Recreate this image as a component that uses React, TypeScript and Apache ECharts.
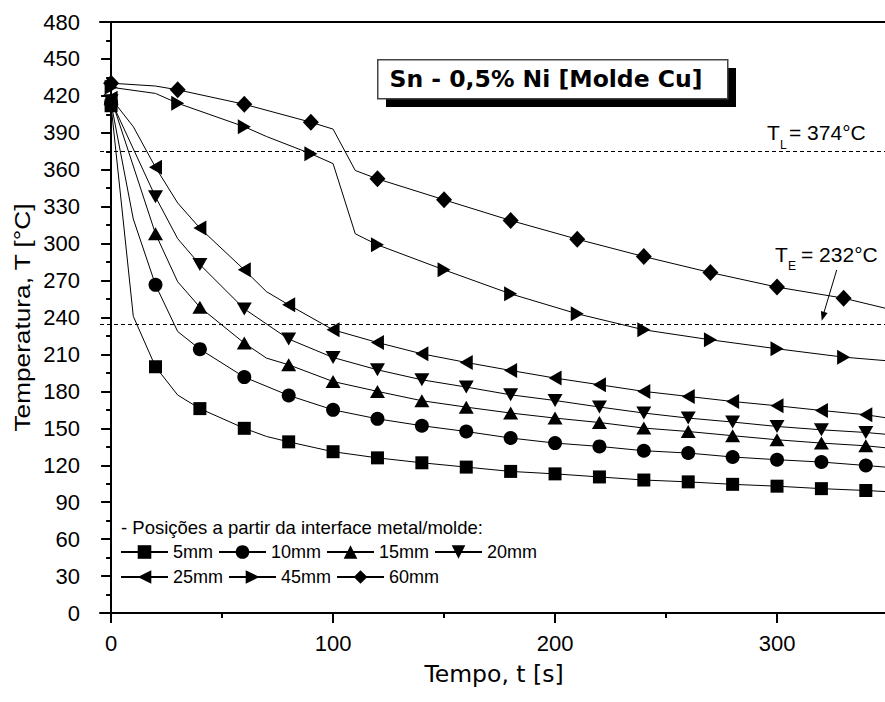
import React, { useEffect, useRef } from "react";
import * as echarts from "echarts";

// ---- data ----
const seriesNames = ["5mm", "10mm", "15mm", "20mm", "25mm", "45mm", "60mm"];

const s5mm = [[0, 412], [10, 241], [20, 200], [30, 177], [40, 166], [60, 150], [70, 143.4], [80, 139], [100, 131], [120, 126], [140, 122], [160, 118.5], [180, 115], [200, 113], [220, 110.5], [240, 108], [260, 106.5], [280, 104.5], [300, 103], [320, 101], [340, 99.5], [350, 98.5]];
const s10mm = [[0, 414], [10, 320], [20, 266.5], [30, 228.6], [40, 214.3], [60, 191.6], [80, 176.7], [100, 165], [120, 157.7], [140, 152.1], [160, 147.4], [180, 142.1], [200, 138], [220, 135.3], [240, 131.8], [260, 129.9], [280, 126.7], [300, 124.5], [320, 122.6], [340, 119.8], [350, 118.3]];
const s15mm = [[0, 418], [20, 308], [30, 269], [40, 248.4], [60, 219.2], [70, 207], [80, 201.6], [100, 188], [120, 180], [140, 172.4], [160, 167.2], [180, 162.4], [200, 158.3], [220, 154.7], [240, 150.2], [260, 147.4], [280, 144], [300, 140.7], [320, 138], [340, 135.8], [350, 134]];
const s20mm = [[0, 416], [20, 338], [30, 304], [40, 283], [60, 247], [80, 222.5], [100, 207.5], [120, 197.5], [140, 189.4], [160, 183.5], [180, 177.2], [200, 172.6], [220, 167.3], [240, 162.4], [260, 158.3], [280, 155.1], [300, 151.5], [320, 148.8], [340, 146.6], [350, 145]];
const s25mm = [[0, 418], [10, 395], [20, 362], [30, 333], [40, 312.6], [60, 278.7], [70, 261], [80, 250.3], [100, 230], [120, 219.7], [140, 210.5], [160, 203.5], [180, 197], [200, 190.8], [220, 185.4], [240, 180], [260, 175.9], [280, 171.8], [300, 168.3], [320, 164.5], [340, 161], [350, 158.3]];
const s45mm = [[0, 427], [20, 422], [30, 414], [60, 395], [70, 387], [90, 373], [100, 365], [110, 308], [120, 299], [150, 278.7], [180, 259.2], [210, 243], [240, 230], [270, 221.9], [300, 214.6], [330, 207.8], [350, 204.8]];
const s60mm = [[0, 430.3], [20, 428], [30, 424.9], [60, 413.2], [90, 398.6], [100, 393], [110, 359.4], [120, 352.6], [150, 335.6], [180, 318.8], [210, 303.6], [240, 289.5], [270, 276.5], [300, 264.7], [330, 255.7], [350, 247]];

const seriesData = [s5mm, s10mm, s15mm, s20mm, s25mm, s45mm, s60mm];
// seconds between plotted markers for each series
const markerEvery = [20, 20, 20, 20, 20, 30, 30];

const refLines = [375, 234.5]; // T_L and T_E dashed lines
const xTicks = [0, 100, 200, 300];
const xMinorTicks = [50, 150, 250];

const symbols = [
  "rect",
  "circle",
  "path://M5,0L10,9L0,9Z",
  "path://M0,0L10,0L5,9Z",
  "path://M0,5L9,0L9,10Z",
  "path://M0,0L9,5L0,10Z",
  "diamond",
];
const symbolSizes: any[] = [13, 14, [15, 13], [15, 13], [13, 15], [13, 15], [16, 17]];

const ARIAL = "Liberation Sans";
const TAHOMA = "DejaVu Sans";

export default function App() {
  const ref = useRef<HTMLDivElement>(null);
  useEffect(() => {
    const chart = echarts.init(ref.current!, null, { renderer: "svg" });

    const series: any[] = seriesData.map((pts, i) => ({
      name: seriesNames[i],
      type: "line",
      xAxisIndex: 0,
      yAxisIndex: 0,
      data: pts.map(([t, T]) =>
        t % markerEvery[i] === 0 ? { value: [t, T] } : { value: [t, T], symbol: "none" }
      ),
      symbol: symbols[i],
      symbolSize: symbolSizes[i],
      showSymbol: true,
      showAllSymbol: true,
      lineStyle: { color: "#000", width: 1 },
      itemStyle: { color: "#000" },
      emphasis: { disabled: true },
      markLine:
        i === 0
          ? {
              silent: true,
              symbol: ["none", "none"],
              label: { show: false },
              lineStyle: { color: "#000", width: 1, type: [4, 3] },
              data: refLines.map((v) => ({ yAxis: v })),
            }
          : undefined,
    }));

    const legendCommon = {
      left: 120,
      itemWidth: 47,
      itemHeight: 17,
      itemGap: 5,
      padding: 0,
      selectedMode: false,
      textStyle: { fontFamily: ARIAL, fontSize: 18, color: "#000" },
    };

    const option: any = {
      animation: false,
      backgroundColor: "#fff",
      grid: { left: 100, top: 22, width: 788, height: 591, containLabel: false, outerBoundsMode: "none" },
      xAxis: [
        {
          type: "value",
          min: -5,
          max: 350,
          position: "bottom",
          axisLine: { show: true, onZero: false, lineStyle: { color: "#000", width: 2 } },
          axisTick: { show: true, inside: false, length: 10, lineStyle: { color: "#000", width: 2 }, customValues: xTicks },
          axisLabel: { customValues: xTicks, margin: 19, color: "#000", fontFamily: ARIAL, fontSize: 22 },
          splitLine: { show: false },
          name: "Tempo, t [s]",
          nameLocation: "middle",
          nameGap: 49,
          nameTextStyle: { fontFamily: TAHOMA, fontSize: 23.5, color: "#000" },
        },
        {
          type: "value",
          min: -5,
          max: 350,
          position: "top",
          axisLine: { show: true, onZero: false, lineStyle: { color: "#000", width: 2 } },
          axisTick: { show: false },
          axisLabel: { show: false },
          splitLine: { show: false },
        },
        {
          type: "value",
          min: -5,
          max: 350,
          position: "bottom",
          axisLine: { show: false, onZero: false },
          axisTick: { show: true, inside: false, length: 5, lineStyle: { color: "#000", width: 2 }, customValues: xMinorTicks },
          axisLabel: { show: false },
          splitLine: { show: false },
        },
      ],
      yAxis: {
        type: "value",
        min: 0,
        max: 480,
        interval: 30,
        axisLine: { show: true, lineStyle: { color: "#000", width: 2 } },
        axisTick: { show: true, length: 10, lineStyle: { color: "#000", width: 2 } },
        minorTick: { show: true, splitNumber: 2, length: 5, lineStyle: { color: "#000", width: 2 } },
        axisLabel: { margin: 20, color: "#000", fontFamily: ARIAL, fontSize: 22 },
        splitLine: { show: false },
        minorSplitLine: { show: false },
      },
      legend: [
        { ...legendCommon, data: seriesNames.slice(0, 4), top: 543 },
        { ...legendCommon, data: seriesNames.slice(4), top: 568 },
      ],
      series,
      graphic: [
        // y-axis title (stretched along its direction as in the reference)
        {
          type: "text",
          x: 22,
          y: 317.5,
          rotation: Math.PI / 2,
          scaleX: 1.22,
          z: 12,
          style: {
            text: "Temperatura, T [°C]",
            font: `21.5px "${ARIAL}"`,
            fill: "#000",
            align: "center",
            verticalAlign: "middle",
          },
        },
        // title box shadow + box
        { type: "rect", left: 386, top: 68, shape: { width: 350, height: 39 }, style: { fill: "#000" }, z: 10 },
        { type: "rect", left: 377, top: 59, shape: { width: 350, height: 39 }, style: { fill: "#fff", stroke: "#444", lineWidth: 1.5 }, z: 11 },
        {
          type: "text",
          x: 546,
          y: 79,
          z: 12,
          style: {
            text: "Sn - 0,5% Ni [Molde Cu]",
            font: `bold 23.5px "${TAHOMA}"`,
            fill: "#000",
            align: "center",
            verticalAlign: "middle",
          },
        },
        // T_L label
        { type: "text", x: 767, y: 132.5, z: 12, style: { text: "T", font: `21px "${ARIAL}"`, fill: "#000", verticalAlign: "middle" } },
        { type: "text", x: 780, y: 145, z: 12, style: { text: "L", font: `12px "${ARIAL}"`, fill: "#000", verticalAlign: "middle" } },
        { type: "text", x: 789, y: 132.5, z: 12, style: { text: "= 374°C", font: `21px "${ARIAL}"`, fill: "#000", verticalAlign: "middle" } },
        // T_E label
        { type: "text", x: 775, y: 254.5, z: 12, style: { text: "T", font: `21px "${ARIAL}"`, fill: "#000", verticalAlign: "middle" } },
        { type: "text", x: 788, y: 266, z: 12, style: { text: "E", font: `12px "${ARIAL}"`, fill: "#000", verticalAlign: "middle" } },
        { type: "text", x: 801, y: 254.5, z: 12, style: { text: "= 232°C", font: `21px "${ARIAL}"`, fill: "#000", verticalAlign: "middle" } },
        // arrow
        { type: "line", z: 12, shape: { x1: 836.7, y1: 270, x2: 823.5, y2: 314 }, style: { stroke: "#000", lineWidth: 1 } },
        { type: "polygon", z: 12, shape: { points: [[821.7, 320.7], [827.6, 313.1], [820.9, 311.1]] }, style: { fill: "#000" } },
        // legend header
        {
          type: "text",
          x: 121,
          y: 527,
          z: 12,
          style: {
            text: "- Posições a partir da interface metal/molde:",
            font: `18.5px "${ARIAL}"`,
            fill: "#000",
            verticalAlign: "middle",
          },
        },
      ],
    };

    chart.setOption(option);
    return () => chart.dispose();
  }, []);

  return (
    <div
      ref={ref}
      style={{ position: "fixed", left: 0, top: 0, width: 885, height: 702, background: "#fff" }}
    />
  );
}
